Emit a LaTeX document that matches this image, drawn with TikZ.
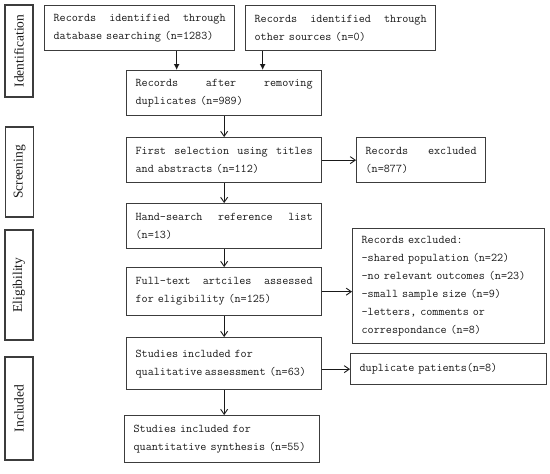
\documentclass[tikz,border=0pt]{standalone}
\usepackage{fontspec}
\setmainfont{Liberation Serif}
\usepackage{tikz}
\usetikzlibrary{arrows.meta,calc,positioning}
\definecolor{BoxGray}{RGB}{60,60,60}
\definecolor{InkGray}{RGB}{25,25,25}

\begin{document}
\begin{tikzpicture}[x=1pt,y=-1pt,>={Straight Barb[length=5pt,width=7pt]},
    box/.style={draw=BoxGray,line width=1.3pt,anchor=north west,inner xsep=9pt,
      inner ysep=2pt,align=left,text=InkGray,
      font=\ttfamily\fontsize{11.8}{18}\selectfont},
    phase/.style={draw=BoxGray,line width=1.3pt,rotate=90,minimum height=28pt,
      inner sep=0pt,text=InkGray,font=\fontsize{13.5}{15}\selectfont},
    flow/.style={->,line width=0.9pt,draw=InkGray},
    bold/.style={-{Latex[length=6pt,width=6pt]},line width=1.6pt,draw=InkGray}]
      \useasboundingbox (0,0) rectangle (550,474);
      % phase labels
      \node[phase,minimum width=92pt]  (idlab)  at (19,51)    {Identification};
      \node[phase,minimum width=90pt]  (scrlab) at (19.5,172) {Screening};
      \node[phase,minimum width=110pt] (elilab) at (19,285)   {Eligibility};
      \node[phase,minimum width=103pt] (inclab) at (19,408.5) {Included};
      % flow boxes
      \node[box,text width=172pt,minimum height=45pt] (db) at (44,5)
        {Records\hfill identified\hfill through\\database searching (n=1283)};
      \node[box,text width=172pt,minimum height=45pt] (other) at (245,5)
        {Records\hfill identified\hfill through\\other sources (n=0)};
      \node[box,text width=177pt,minimum height=45pt] (dup) at (126,70)
        {Records\hfill after\hfill removing\\duplicates (n=989)};
      \node[box,text width=177pt,minimum height=45pt] (first) at (126,137)
        {First\hfill selection\hfill using\hfill titles\\and abstracts (n=112)};
      \node[box,text width=111pt,minimum height=45pt] (excla) at (356,137)
        {Records\hfill excluded\\(n=877)};
      \node[box,text width=177pt,minimum height=45pt] (hand) at (126,203)
        {Hand-search\hfill reference\hfill list\\(n=13)};
      \node[box,text width=177pt,minimum height=48pt] (full) at (126,267)
        {Full-text\hfill artciles\hfill assessed\\for eligibility (n=125)};
      \node[box,text width=174pt,minimum height=115pt] (exclb) at (352,228)
        {Records excluded:\\-shared population (n=22)\\-no relevant outcomes (n=23)\\
         -small sample size (n=9)\\-letters, comments or\\correspondance (n=8)};
      \node[box,text width=177pt,minimum height=52pt] (qual) at (126,337)
        {Studies included for\\qualitative\hspace{0.2em}assessment (n=63)};
      \node[box,text width=178pt,minimum height=31pt] (dpat) at (350,353)
        {duplicate patients(n=8)};
      \node[box,text width=177pt,minimum height=47pt] (quant) at (124,415)
        {Studies included for\\quantitative synthesis (n=55)};
      % connectors
      \draw[bold] ([xshift=37pt]db.south) -- ([xshift=37pt]db.south |- dup.north);
      \draw[bold] ([xshift=-78pt]other.south) -- ([xshift=-78pt]other.south |- dup.north);
      \draw[flow] (dup) -- (first);
      \draw[flow] (first) -- (excla);
      \draw[flow] (first) -- (hand);
      \draw[flow] (hand) -- (full);
      \draw[flow] (full.east) -- (full.east -| exclb.west);
      \draw[flow] (full) -- (qual);
      \draw[flow] (dpat.west -| qual.east) -- (dpat.west);
      \draw[flow] (qual.south) -- (qual.south |- quant.north);
    \end{tikzpicture}
\end{document}
